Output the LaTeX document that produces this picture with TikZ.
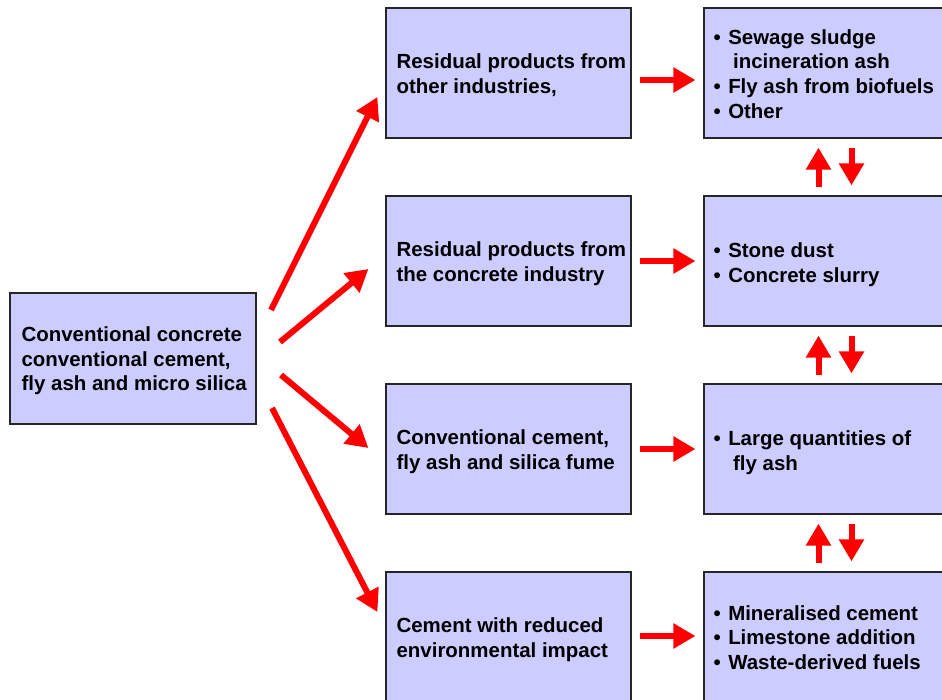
\documentclass[tikz,border=0pt]{standalone}
\usepackage{fontspec}
\setmainfont{Liberation Sans}
\usetikzlibrary{arrows.meta,calc}
\definecolor{boxfill}{HTML}{CCCCFF}
\definecolor{arrred}{HTML}{FF0000}
\newcommand{\bul}{\textbullet\hspace{7.5pt}}
\begin{document}
\begin{tikzpicture}[x=1pt,y=-1pt,
  box/.style={draw=black!85,line width=1.2pt,fill=boxfill,minimum width=245pt,minimum height=130pt,inner sep=0pt},
  txt/.style={anchor=west,align=left,inner sep=0pt,font=\fontsize{20.45}{24.7}\selectfont\bfseries},
  arr/.style={draw=arrred,line width=6pt,-{Triangle[length=22pt,width=24pt]}}]
\useasboundingbox (0,0) rectangle (942,700);
\clip (0,0) rectangle (942,700);
\fill[white] (0,0) rectangle (942,700);
% left box
\node[box,minimum width=246pt,minimum height=131pt] (L) at (133,358.5) {};
\node[txt] (Lt) at ($(L.west)+(12,2.5)$) {Conventional concrete\\conventional cement,\\fly ash and micro silica};
% middle column
\node[box] (m1) at (508.5,73) {};
\node[box] (m2) at (508.5,261) {};
\node[box] (m3) at (508.5,449) {};
\node[box] (m4) at (508.5,637) {};
\node[txt] (m1t) at ($(m1.west)+(11,2.5)$) {Residual products from\\other industries,};
\node[txt] (m2t) at ($(m2.west)+(11,2.5)$) {Residual products from\\the concrete industry};
\node[txt] (m3t) at ($(m3.west)+(11,2.5)$) {Conventional cement,\\fly ash and silica fume};
\node[txt] (m4t) at ($(m4.west)+(11,2.5)$) {Cement with reduced\\environmental impact};
% right column
\node[box,minimum width=246pt] (r1) at (827,73) {};
\node[box,minimum width=246pt] (r2) at (827,261) {};
\node[box,minimum width=246pt] (r3) at (827,449) {};
\node[box,minimum width=246pt] (r4) at (827,637) {};
\node[txt] (r1t) at ($(r1.west)+(10,1)$)
  {\bul Sewage sludge\\\hspace*{19.5pt}incineration ash\\\bul Fly ash from biofuels\\\bul Other};
\node[txt] (r2t) at ($(r2.west)+(10,3.5)$) {\bul Stone dust\\\bul Concrete slurry};
\node[txt] (r3t) at ($(r3.west)+(10,3.5)$) {\bul Large quantities of\\\hspace*{19.5pt}fly ash};
\node[txt] (r4t) at ($(r4.west)+(10,0.5)$) {\bul Mineralised cement\\\bul Limestone addition\\\bul Waste-derived fuels};
% diagonal arrows
\coordinate (s1) at (271,310);
\coordinate (s2) at (280,342);
\coordinate (s3) at (281,375);
\coordinate (s4) at (272,408);
\draw[arr] (s1) -- ($(m1.west)+(-8,24)$);
\draw[arr] (s2) -- ($(m2.west)+(-17,8)$);
\draw[arr] (s3) -- ($(m3.west)+(-17,-1)$);
\draw[arr] (s4) -- ($(m4.west)+(-8,-25)$);
% horizontal arrows
\draw[arr] ($(m1.east)+(8,7)$) -- ($(r1.west)+(-8,7)$);
\draw[arr] ($(m2.east)+(8,0)$) -- ($(r2.west)+(-8,0)$);
\draw[arr] ($(m3.east)+(8,0)$) -- ($(r3.west)+(-8,0)$);
\draw[arr] ($(m4.east)+(8,-1)$) -- ($(r4.west)+(-8,-1)$);
% vertical arrows
\draw[arr] ($(r2.north)+(-8.5,-8)$) -- ($(r1.south)+(-8.5,9)$);
\draw[arr] ($(r1.south)+(24.5,9)$) -- ($(r2.north)+(24.5,-10)$);
\draw[arr] ($(r3.north)+(-8.5,-8)$) -- ($(r2.south)+(-8.5,9)$);
\draw[arr] ($(r2.south)+(24.5,9)$) -- ($(r3.north)+(24.5,-10)$);
\draw[arr] ($(r4.north)+(-8.5,-8)$) -- ($(r3.south)+(-8.5,9)$);
\draw[arr] ($(r3.south)+(24.5,9)$) -- ($(r4.north)+(24.5,-10)$);
\end{tikzpicture}
\end{document}
